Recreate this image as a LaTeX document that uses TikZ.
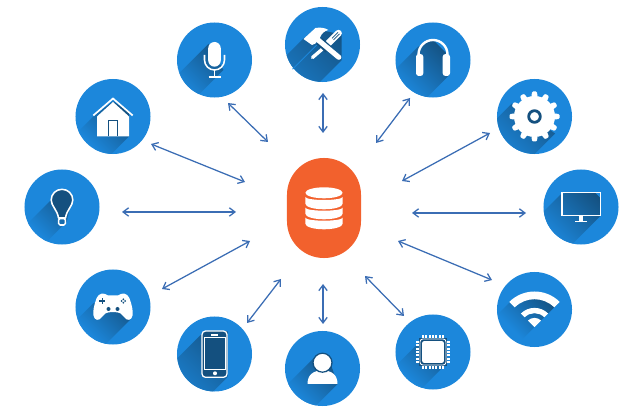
\documentclass[tikz,border=0pt]{standalone}
\usepackage{amsmath}
\usetikzlibrary{arrows.meta}
\definecolor{iconblue}{HTML}{1C87DB}
\definecolor{shadowblue}{HTML}{14507F}
\definecolor{hubred}{HTML}{F2612D}
\definecolor{linkblue}{HTML}{3B6DB4}
\tikzset{
  iconbox/.style={circle,fill=iconblue,inner sep=0pt,minimum size=1.875cm},
  hubbox/.style={rectangle,rounded corners=.92cm,fill=hubred,inner sep=0pt,minimum width=1.85cm,minimum height=2.5cm},
  link/.style={draw=linkblue,line width=.9pt,{Straight Barb[length=4pt,width=6pt]}-{Straight Barb[length=4pt,width=6pt]}},
  whiteline/.style={draw=white,line width=1.1pt},
  darkline/.style={draw=shadowblue,line width=.7pt}
}
% node, outline of the shadow, where the fade starts and ends
\newcommand{\longshadow}[4]{%
  \begin{scope}[shift={(#1)}]
    \clip (0,0) circle (37.4);
    \clip #2 -- cycle;
    \begin{scope}[reset cm,transform canvas={shift={(#1)},rotate=225}]
      \shade[left color=shadowblue,right color=iconblue] (#3,-80) rectangle (#4,80);
    \end{scope}
  \end{scope}}
\begin{document}
\begin{tikzpicture}[x=.025cm,y=.025cm]
  \useasboundingbox (0,0) rectangle (640,-413);
  \node[hubbox] (hub) at (324,-208) {};
  \node[iconbox] (mic) at (214.5,-60) {};
  \node[iconbox] (tools) at (322.5,-44.5) {};
  \node[iconbox] (phones) at (433,-60) {};
  \node[iconbox] (gear) at (534.5,-116.5) {};
  \node[iconbox] (screen) at (581,-207) {};
  \node[iconbox] (wifi) at (534.5,-309.5) {};
  \node[iconbox] (chip) at (433,-352) {};
  \node[iconbox] (user) at (322.5,-368.5) {};
  \node[iconbox] (mobile) at (214.5,-354) {};
  \node[iconbox] (game) at (113,-307) {};
  \node[iconbox] (bulb) at (62,-207) {};
  \node[iconbox] (house) at (113,-116.5) {};
  % arrow ends
  \coordinate (micA) at (228,-103);      \coordinate (micB) at (268,-142);
  \coordinate (toolsA) at (323,-93);     \coordinate (toolsB) at (323,-133);
  \coordinate (phonesA) at (410,-98);    \coordinate (phonesB) at (376,-143);
  \coordinate (gearA) at (490,-133);     \coordinate (gearB) at (402,-181);
  \coordinate (screenA) at (526,-213);   \coordinate (screenB) at (412,-213);
  \coordinate (wifiA) at (492,-280);     \coordinate (wifiB) at (398,-241);
  \coordinate (chipA) at (404,-316);     \coordinate (chipB) at (365,-276);
  \coordinate (userA) at (323,-324);     \coordinate (userB) at (323,-284);
  \coordinate (mobileA) at (247,-323);   \coordinate (mobileB) at (281,-279);
  \coordinate (gameA) at (162,-289);     \coordinate (gameB) at (250,-241);
  \coordinate (bulbA) at (122,-212);     \coordinate (bulbB) at (236,-212);
  \coordinate (houseA) at (151,-144);    \coordinate (houseB) at (245,-182);
  \draw[link] (micA) -- (micB);
  \draw[link] (toolsA) -- (toolsB);
  \draw[link] (phonesA) -- (phonesB);
  \draw[link] (gearA) -- (gearB);
  \draw[link] (screenA) -- (screenB);
  \draw[link] (wifiA) -- (wifiB);
  \draw[link] (chipA) -- (chipB);
  \draw[link] (userA) -- (userB);
  \draw[link] (mobileA) -- (mobileB);
  \draw[link] (gameA) -- (gameB);
  \draw[link] (bulbA) -- (bulbB);
  \draw[link] (houseA) -- (houseB);
  % database
  \begin{scope}[shift={(hub)},fill=white]
    \fill (0,15.2) ellipse (18.6 and 5.5);
    \fill (-18.6,11) arc (180:360:18.6 and 3) -- (18.6,4.2) arc (0:-180:18.6 and 5.5) -- cycle;
    \fill (-18.6,.3) arc (180:360:18.6 and 3) -- (18.6,-5.8) arc (0:-180:18.6 and 5.5) -- cycle;
    \fill (-18.6,-9.7) arc (180:360:18.6 and 3) -- (18.6,-15.8) arc (0:-180:18.6 and 5.5) -- cycle;
  \end{scope}
  % microphone
  \longshadow{mic}{(-6,16) -- (9,-10) -- (-51,-70) -- (-66,-44)}{-15}{42}
  \begin{scope}[shift={(mic)}]
    \fill[white] (-6.3,11.7) arc (180:0:6.3) -- (6.3,-.4) arc (0:-180:6.3) -- cycle;
    \draw[whiteline] (-10,5) -- (-10,0) arc (180:360:10) -- (10,5);
    \draw[whiteline] (0,-10) -- (0,-17) (-6,-17) -- (6,-17);
  \end{scope}
  % hammer and screwdriver
  \longshadow{tools}{(-19,6) -- (-5,15) -- (19,10) -- (19,-16) -- (-41,-76) -- (-79,-54)}{-25}{75}
  \begin{scope}[shift={(tools)}]
    \draw[iconblue,line width=.7pt] (-5.8,-.5) -- (-30,-24.7);
    \draw[white,line width=4.8pt,line cap=round] (16,11.3) -- (6.2,1.6);
    \draw[shadowblue,line width=.5pt] (15.5,12.2) -- (9.5,6.2) (17,10.7) -- (11,4.7);
    \draw[white,line width=2.4pt,line cap=round] (1,-3.6) -- (-10,-13);
    \draw[shadowblue,line width=6pt] (-3,3.4) -- (6,-5);
    \draw[white,line width=3.6pt,line cap=round] (-5,5) -- (16.3,-12.8);
    \fill[white] (-19,5.5) -- (-7,16.5) .. controls (-2,17.5) and (3,16.5) .. (5.8,14.5) .. controls (2,13.5) and (-1,11) .. (-2.5,7) -- (-7,1) -- (-10.5,-.5) -- cycle;
  \end{scope}
  % headphones
  \longshadow{phones}{(-14.7,13.3) -- (0,20) -- (15,5) -- (16.3,-15) -- (-43.7,-75) -- (-74.7,-46.7)}{-18}{40}
  \begin{scope}[shift={(phones)}]
    \draw[white,line width=1.7pt] (-14.5,5) -- (-14.5,5.5) arc (180:0:14.5) -- (14.5,5);
    \fill[white,rounded corners=2] (-17,6) rectangle (-9.7,-16);
    \fill[white,rounded corners=2] (17,6) rectangle (9.7,-16);
  \end{scope}
  % gear
  \longshadow{gear}{(-22.7,13) -- (20.5,-17) -- (-39.5,-77) -- (-82.7,-47)}{-20}{50}
  \begin{scope}[shift={(gear)}]
    \fill[white] (0,0) circle (20.5);
    \foreach \a in {0,30,...,330}
      \fill[white,rounded corners=.8,rotate=\a] (-3.2,19) -- (-2.4,25) -- (2.4,25) -- (3.2,19) -- cycle;
    \draw[shadowblue,line width=2pt] (0,0) circle (5.8);
  \end{scope}
  % monitor
  \longshadow{screen}{(-19.3,13.7) -- (19.7,14.3) -- (19.7,-8.7) -- (-40.3,-68.7) -- (-79.3,-46.3)}{-20}{42}
  \begin{scope}[shift={(screen)}]
    \draw[white,line width=1.1pt] (-19,14.3) rectangle (19.3,-8.3);
    \fill[white] (-1.7,-8.3) rectangle (1.7,-13.7);
    \fill[white] (-6.2,-13.7) rectangle (6.2,-15.4);
  \end{scope}
  % wifi
  \longshadow{wifi}{(-24.5,7.3) -- (0,14) -- (25,7.3) -- (-35,-52.7) -- (-84.5,-52.7)}{-20}{30}
  \begin{scope}[shift={(wifi)}]
    \begin{scope}[shift={(0,-17.7)}]
      \fill[white] (45:28) arc (45:135:28) -- (135:35.7) arc (135:45:35.7) -- cycle;
      \fill[white] (45:14) arc (45:135:14) -- (135:19.3) arc (135:45:19.3) -- cycle;
      \fill[white] (0,0) -- (45:9.3) arc (45:135:9.3) -- cycle;
    \end{scope}
  \end{scope}
  % chip
  \longshadow{chip}{(-13,10.3) -- (13.7,-11.3) -- (-46.3,-71.3) -- (-73,-49.7)}{-18}{36}
  \begin{scope}[shift={(chip)}]
    \draw[shadowblue,line width=1.1pt,fill=shadowblue] (-13,-13) rectangle (13,13);
    \draw[white,line width=.6pt,rounded corners=2] (-13,-13) rectangle (13,13);
    \fill[white,rounded corners=1.5] (-10.9,-10.9) rectangle (10.9,10.9);
    \foreach \p in {-10,-6.67,-3.33,0,3.33,6.67,10}{
      \fill[white] (\p-.9,14) rectangle (\p+.9,16.6);
      \fill[white] (\p-.9,-14) rectangle (\p+.9,-16.6);
      \fill[white] (14,\p-.9) rectangle (16.6,\p+.9);
      \fill[white] (-14,\p-.9) rectangle (-16.6,\p+.9);
    }
  \end{scope}
  % user
  \longshadow{user}{(-9.2,10) -- (5,14) -- (15,-15.5) -- (-45,-75.5) -- (-69.2,-50)}{-15}{38}
  \begin{scope}[shift={(user)}]
    \fill[white] (-15,-15.5) .. controls (-15,-6) and (-9,-2) .. (0,-2) .. controls (9,-2) and (15,-6) .. (15,-15.5) -- cycle;
    \draw[fill=white,draw=shadowblue,line width=.9pt] (0,5.8) circle (9.5);
  \end{scope}
  % mobile
  \longshadow{mobile}{(-13,20) -- (13,23) -- (13,-23) -- (-47,-83) -- (-73,-40)}{-25}{60}
  \begin{scope}[shift={(mobile)}]
    \draw[whiteline,line width=.9pt,fill=shadowblue,rounded corners=2.5] (-12.5,23) rectangle (12.5,-23.3);
    \draw[white,line width=.7pt,fill=shadowblue] (-10,16.3) rectangle (10.5,-15.3);
    \fill[white] (-3.5,19.5) rectangle (3.5,17.8);
    \fill[white] (.5,-19.3) circle (2);
  \end{scope}
  % controller
  \longshadow{game}{(-19.7,3.7) -- (0,10) -- (17,-13) -- (-43,-73) -- (-79.7,-56.3)}{-15}{36}
  \begin{scope}[shift={(game)}]
    \fill[white] (0,11.5) -- (5,11.5) .. controls (9,14.5) and (14,14.5) .. (16.5,8.7) .. controls (18.5,3) and (20.5,-4) .. (19.5,-8.5) .. controls (18.7,-13.5) and (14,-14.5) .. (11,-10) .. controls (9,-7) and (7,-5) .. (0,-5) .. controls (-7,-5) and (-9,-7) .. (-11,-10) .. controls (-14,-14.5) and (-18.7,-13.5) .. (-19.5,-8.5) .. controls (-20.5,-4) and (-18.5,3) .. (-16.5,8.7) .. controls (-14,14.5) and (-9,14.5) .. (-5,11.5) -- cycle;
    \draw[darkline,line width=1.1pt] (-13.6,6) -- (-7.6,6) (-10.6,3) -- (-10.6,9);
    \foreach \q in {(8.7,6),(12.1,6),(10.4,7.7),(10.4,4.3)}
      \fill[shadowblue] \q circle (1);
    \fill[shadowblue] (-4.5,-2) circle (2) (4.5,-2) circle (2);
  \end{scope}
  % bulb
  \longshadow{bulb}{(-10.8,7) -- (0,17) -- (10,8) -- (4.7,-14.7) -- (-55.3,-74.7) -- (-70.8,-53)}{-16}{36}
  \begin{scope}[shift={(bulb)}]
    \draw[whiteline,fill=shadowblue,line join=round] (0,17.7) .. controls (6,17.7) and (10.8,13) .. (10.8,7) .. controls (10.8,1) and (4.5,-3) .. (3.5,-11) -- (-3.5,-11) .. controls (-4.5,-3) and (-10.8,1) .. (-10.8,7) .. controls (-10.8,13) and (-6,17.7) .. (0,17.7) -- cycle;
    \draw[whiteline,rounded corners=1] (-3.3,-11.5) rectangle (3.3,-18);
  \end{scope}
  % house
  \longshadow{house}{(-19.7,0) -- (0,15) -- (16,5) -- (16,-20) -- (-44,-80) -- (-79.7,-60)}{-15}{36}
  \begin{scope}[shift={(house)}]
    \draw[white,line width=1.2pt] (-19.7,1) -- (0,18) -- (19.7,1);
    \fill[white] (-16,0) -- (0,14.5) -- (16,0) -- (16,-20) -- (-16,-20) -- cycle;
    \draw[darkline,line width=.8pt] (-4.7,-20) -- (-4.7,-4) -- (4.7,-4) -- (4.7,-20);
  \end{scope}
\end{tikzpicture}
\end{document}
